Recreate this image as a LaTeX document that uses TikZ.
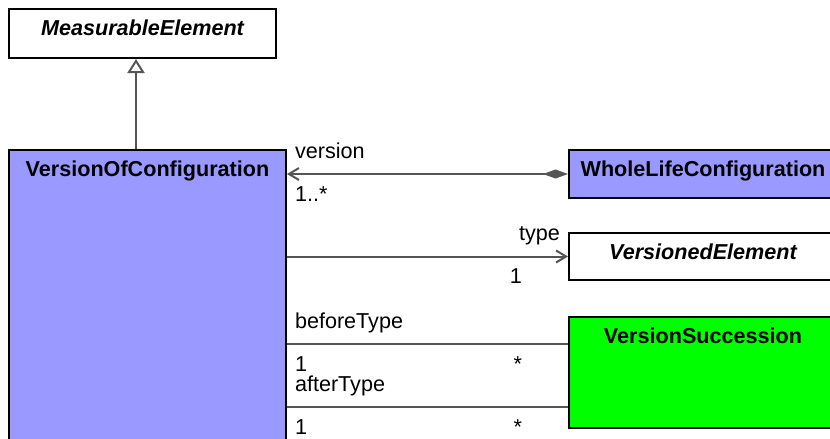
\documentclass[tikz,border=0pt]{standalone}
\usepackage{fontspec}
\setmainfont{Liberation Sans}
\usepackage{tikz}
\usetikzlibrary{arrows.meta,positioning}
\definecolor{umlblue}{HTML}{9999FF}
\definecolor{umlgreen}{HTML}{00FF00}
\definecolor{linkgray}{HTML}{555555}

\begin{document}
\begin{tikzpicture}[x=1pt,y=-1pt,every node/.style={font=\fontsize{21.6}{26}\selectfont},
  umlclass/.style={draw=black,line width=2pt,anchor=north west,inner sep=0pt,
    text height=26pt,text depth=#1,font=\fontsize{21.6}{26}\selectfont\bfseries},
  link/.style={draw=linkgray,line width=2pt},
  role/.style={inner xsep=7pt,inner ysep=10pt,text height=16pt,text depth=5pt}]
  \useasboundingbox (0,0) rectangle (830,439);
  \clip (0,0) rectangle (830,439);
  % 类
  \node[umlclass=23pt,minimum width=267pt,font=\fontsize{21.6}{26}\selectfont\bfseries\itshape] (measurable) at (8,8) {MeasurableElement};
  \node[umlclass=274pt,minimum width=277pt,fill=umlblue] (voc) at (8,149) {VersionOfConfiguration};
  \node[umlclass=22pt,minimum width=268pt,fill=umlblue] (whole) at (568,149) {WholeLifeConfiguration};
  \node[umlclass=21pt,minimum width=268pt,font=\fontsize{21.6}{26}\selectfont\bfseries\itshape] (versioned) at (568,232) {VersionedElement};
  \node[umlclass=85pt,minimum width=268pt,fill=umlgreen] (succession) at (568,316) {VersionSuccession};
  \coordinate (before) at ([yshift=-28pt]succession.north west);
  \coordinate (after) at ([yshift=-91pt]succession.north west);
  % 泛化
  \draw[link,-{Triangle[open,length=14pt,width=17pt,fill=white]}] ([xshift=-11.5pt]voc.north) -- ([xshift=-6.5pt]measurable.south);
  % 组合
  \draw[link,{Straight Barb[length=10pt,width=12pt]}-{Diamond[length=25pt,width=9pt]}] (voc.east |- whole.west) -- (whole.west)
    node[role,at start,above right]{version}
    node[role,at start,below right]{1..*};
  % 关联
  \draw[link,-{Straight Barb[length=10pt,width=12pt]}] (voc.east |- versioned.west) -- (versioned.west)
    node[role,at end,above left]{type}
    node[role,at end,below left,xshift=-38pt]{1};
  \draw[link] (voc.east |- before) -- (before)
    node[role,at start,above right]{beforeType}
    node[role,at start,below right]{1}
    node[role,at end,below left,xshift=-38pt]{*};
  \draw[link] (voc.east |- after) -- (after)
    node[role,at start,above right]{afterType}
    node[role,at start,below right]{1}
    node[role,at end,below left,xshift=-38pt]{*};
\end{tikzpicture}
\end{document}
